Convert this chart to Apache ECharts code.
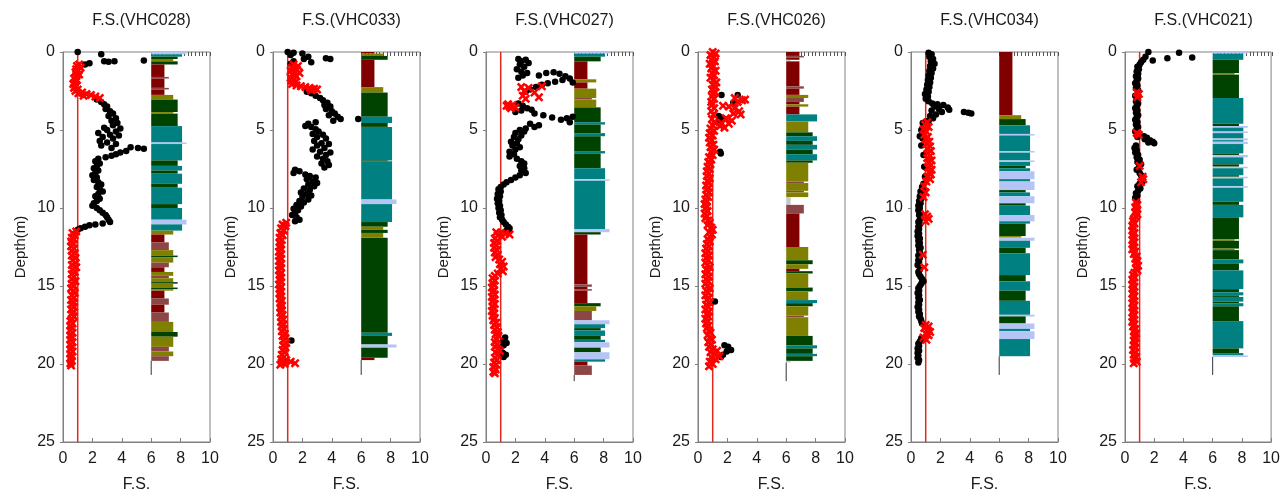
<!DOCTYPE html>
<html>
<head>
<meta charset="utf-8">
<title>CPT factor of safety profiles</title>
<script src="https://cdn.jsdelivr.net/npm/echarts@6/dist/echarts.min.js"></script>
<style>
  html, body { margin: 0; padding: 0; background: #ffffff; }
  #chart { width: 1283px; height: 500px; }
</style>
</head>
<body>
<div id="chart"></div>
<script>
// Boreholes, left to right
const boreholes = ['VHC028', 'VHC033', 'VHC027', 'VHC026', 'VHC034', 'VHC021'];

// Factor of safety threshold (F.S. = 1)
const fsLimit = 1;

// Total sounding depth of each log (m)
const logDepths = [20.7, 20.7, 21.1, 21.1, 20.7, 20.7];

// ---- VHC028 ----  points are [F.S., depth m]
const vhc028NonLiq = [[1.0,0.0],[2.6,0.15],[5.5,0.55],[2.8,0.6],[3.1,0.62],[3.5,0.6],[1.8,0.72],[1.5,0.8],
  [2.3,3.05],[2.6,3.2],[2.8,3.35],[3.0,3.5],[2.9,3.65],[3.2,3.8],[3.4,3.95],[3.1,4.1],[3.6,4.25],[3.3,4.4],[3.7,4.55],[3.4,4.7],[2.8,4.85],[3.9,4.9],[3.0,5.0],[3.6,5.1],[2.4,5.2],[3.2,5.3],[3.8,5.35],[2.7,5.45],[3.4,5.55],[2.5,5.7],[3.0,5.8],[3.6,5.9],[2.6,6.0],[3.3,6.15],[4.6,6.1],[5.1,6.15],[5.5,6.2],[4.3,6.35],[3.9,6.45],[3.6,6.55],[3.3,6.65],[2.9,6.75],[2.4,6.85],
  [2.2,7.0],[2.5,7.15],[2.3,7.3],[2.1,7.45],[2.4,7.6],[2.2,7.75],[2.0,7.9],[2.3,8.05],[2.1,8.2],[2.4,8.35],[2.6,8.5],[2.3,8.65],[2.5,8.8],[2.7,8.95],[2.4,9.1],[2.2,9.25],[2.5,9.4],[2.3,9.55],[2.1,9.7],[2.0,9.85],[2.3,10.0],[2.5,10.15],[2.7,10.3],[2.9,10.45],[3.0,10.6],[3.1,10.75],[3.2,10.9],[2.7,11.0],[2.2,11.05],[1.8,11.1],[1.5,11.2],[1.2,11.3],[1.0,11.4]];
const vhc028Liq = [[1.1,0.8],[0.95,0.9],[1.2,1.0],[0.9,1.1],[1.05,1.2],[0.85,1.3],[1.1,1.45],[0.9,1.55],[0.75,1.7],[0.95,1.8],[0.8,1.95],[0.7,2.05],[0.9,2.2],[0.75,2.3],[1.0,2.4],[0.85,2.5],[1.3,2.6],[1.05,2.65],[1.6,2.7],[1.9,2.75],[1.4,2.8],[2.2,2.85],[2.5,2.95],
  [0.9,11.5],[0.65,11.6],[0.8,11.75],[0.6,11.9],[0.75,12.0],[0.55,12.15],[0.7,12.3],[0.55,12.45],[0.75,12.6],[0.6,12.75],[0.8,12.9],[0.6,13.05],[0.85,13.2],[0.65,13.35],[0.85,13.5],[0.6,13.65],[0.9,13.8],[0.65,13.95],[0.8,14.1],[0.6,14.25],[0.75,14.4],[0.6,14.55],[0.85,14.7],[0.6,14.85],[0.75,15.0],[0.55,15.15],[0.7,15.3],[0.8,15.45],[0.6,15.6],[0.75,15.75],[0.55,15.9],[0.7,16.05],[0.6,16.2],[0.75,16.35],[0.55,16.5],[0.7,16.65],[0.6,16.8],[0.75,16.95],[0.6,17.1],[0.5,17.25],[0.65,17.4],[0.5,17.55],[0.6,17.7],[0.5,17.85],[0.65,18.0],[0.5,18.15],[0.6,18.3],[0.5,18.45],[0.65,18.6],[0.5,18.75],[0.6,18.9],[0.5,19.05],[0.65,19.2],[0.5,19.35],[0.6,19.5],[0.5,19.65],[0.6,19.8],[0.5,19.95],[0.55,20.1]];
// soil behaviour type layers: [top m, bottom m, SBT zone]
const vhc028Sbt = [[0,0.15,8],[0.15,0.3,7],[0.3,0.45,6],[0.45,0.6,5],[0.6,0.8,6],[0.8,1.6,3],[1.6,1.7,4],[1.7,2.3,3],[2.3,2.4,4],[2.4,2.75,3],[2.75,3.05,5],[3.05,3.85,6],[3.85,3.95,5],[3.95,4.75,6],[4.75,5.8,7],[5.8,5.9,8],[5.9,6.95,7],[6.95,7.3,6],[7.3,7.6,7],[7.6,7.8,6],[7.8,8.45,7],[8.45,8.7,6],[8.7,9.75,7],[9.75,10.0,6],[10.0,10.75,7],[10.75,11.05,8],[11.05,11.45,7],[11.45,11.7,5],[11.7,12.2,3],[12.2,12.7,4],[12.7,13.05,5],[13.05,13.15,6],[13.15,13.5,5],[13.5,13.8,4],[13.8,14.1,3],[14.1,14.35,5],[14.35,14.5,4],[14.5,14.75,5],[14.75,14.85,6],[14.85,15.1,5],[15.1,15.2,6],[15.2,15.3,5],[15.3,15.8,3],[15.8,16.2,4],[16.2,16.7,3],[16.7,17.3,4],[17.3,17.95,5],[17.95,18.25,6],[18.25,18.9,5],[18.9,19.2,4],[19.2,19.5,5],[19.5,19.8,4]];

// ---- VHC033 ----
const vhc033NonLiq = [[1.0,0.0],[1.4,0.05],[2.0,0.1],[1.2,0.2],[2.4,0.3],[3.6,0.4],[3.9,0.45],[2.1,0.45],[1.4,0.6],[2.6,0.65],[1.2,0.75],
  [2.3,2.55],[2.6,2.65],[2.9,2.8],[3.2,2.95],[3.4,3.1],[3.7,3.25],[3.5,3.4],[3.9,3.5],[3.6,3.65],[4.0,3.8],[4.2,3.95],[3.8,4.05],[4.4,4.15],[4.6,4.3],[5.8,4.3],[4.1,4.4],[2.9,4.5],[2.4,4.6],[2.2,4.75],[2.6,4.8],[2.9,4.95],[3.1,5.1],[2.7,5.25],[3.4,5.3],[3.0,5.45],[3.6,5.55],[2.8,5.7],[3.3,5.85],[3.8,5.9],[3.0,6.0],[3.5,6.15],[2.7,6.25],[3.2,6.4],[3.9,6.45],[3.6,6.6],[3.0,6.7],[3.4,6.85],[3.7,7.0],[3.3,7.15],[3.8,7.25],[3.5,7.4],[1.5,7.55],[1.8,7.65],[1.4,7.75],[2.2,7.85],[2.5,7.95],[2.9,8.05],[2.3,8.15],[2.7,8.3],[3.0,8.4],[2.4,8.5],[2.8,8.6],[2.1,8.75],[2.5,8.85],[1.9,9.0],[2.3,9.1],[2.6,9.2],[2.0,9.3],[2.4,9.45],[1.8,9.55],[2.1,9.65],[1.6,9.8],[1.9,9.9],[1.4,10.05],[1.7,10.15],[1.5,10.3],[1.3,10.45],[1.6,10.6],[1.8,10.75],[1.5,10.85],
  [1.25,18.5]];
const vhc033Liq = [[1.4,0.8],[1.7,0.9],[1.3,1.0],[1.6,1.1],[1.2,1.2],[1.5,1.3],[1.8,1.35],[1.3,1.45],[1.6,1.55],[1.2,1.65],[1.45,1.75],[1.25,1.85],[1.5,1.95],[1.3,2.05],[1.6,2.15],[1.9,2.2],[2.2,2.25],[2.5,2.3],[2.8,2.35],[3.0,2.4],[2.6,2.45],
  [0.9,10.95],[0.65,11.05],[0.85,11.15],[0.55,11.3],[0.75,11.45],[0.5,11.6],[0.65,11.75],[0.45,11.9],[0.6,12.05],[0.45,12.2],[0.55,12.35],[0.45,12.5],[0.55,12.65],[0.4,12.8],[0.55,12.95],[0.45,13.1],[0.55,13.25],[0.4,13.4],[0.55,13.55],[0.45,13.7],[0.55,13.85],[0.4,14.0],[0.55,14.15],[0.45,14.3],[0.55,14.45],[0.45,14.6],[0.55,14.75],[0.4,14.9],[0.55,15.05],[0.45,15.2],[0.55,15.35],[0.45,15.5],[0.55,15.65],[0.45,15.8],[0.6,15.95],[0.5,16.1],[0.6,16.25],[0.5,16.4],[0.6,16.55],[0.5,16.7],[0.65,16.85],[0.55,17.0],[0.7,17.15],[0.55,17.3],[0.7,17.45],[0.6,17.6],[0.75,17.75],[0.6,17.9],[0.8,18.05],[0.65,18.2],[0.85,18.35],[0.7,18.5],[0.9,18.65],[0.7,18.8],[0.85,18.95],[0.65,19.1],[0.8,19.25],[0.6,19.4],[0.75,19.55],[0.55,19.7],[0.9,19.75],[1.2,19.85],[0.6,19.9],[1.5,19.95],[0.8,20.0],[0.5,20.05]];
const vhc033Sbt = [[0,0.1,3],[0.1,0.25,5],[0.25,0.5,6],[0.5,2.25,3],[2.25,2.6,5],[2.6,4.15,6],[4.15,4.55,7],[4.55,4.8,6],[4.8,6.95,7],[6.95,7.0,6],[7.0,9.45,7],[9.45,9.75,8],[9.75,10.9,7],[10.9,11.2,6],[11.2,11.4,5],[11.4,11.6,6],[11.6,11.9,5],[11.9,18.0,6],[18.0,18.2,7],[18.2,18.75,6],[18.75,18.95,8],[18.95,19.6,6],[19.6,19.75,3]];

// ---- VHC027 ----
const vhc027NonLiq = [[2.2,0.45],[2.7,0.5],[2.4,0.6],[2.9,0.7],[2.3,0.8],[2.6,0.95],[2.1,1.1],[2.4,1.25],[2.8,1.35],[2.5,1.5],[2.2,1.65],
  [3.6,1.5],[4.1,1.35],[4.6,1.3],[5.0,1.4],[5.4,1.55],[5.7,1.7],[5.9,1.95],[5.2,1.8],[4.7,1.9],[4.2,2.0],[3.8,2.1],[3.4,2.25],[3.0,2.4],[2.7,2.55],
  [2.2,3.3],[2.5,3.45],[2.8,3.6],[3.1,3.7],[2.4,3.75],[2.0,3.85],[3.3,3.95],[3.9,4.05],[4.5,4.2],[5.1,4.35],[5.5,4.25],[5.9,4.15],[5.7,4.5],[3.0,4.6],[3.6,4.7],[3.3,4.8],[2.7,4.9],
  [2.3,5.0],[2.6,5.1],[2.0,5.2],[2.4,5.35],[1.9,5.45],[2.2,5.6],[1.7,5.75],[2.1,5.85],[1.8,6.0],[2.3,6.1],[2.0,6.25],[1.6,6.4],[1.9,6.55],[1.6,6.7],[2.1,6.85],[2.4,7.0],[2.6,7.15],[2.3,7.3],[2.6,7.45],[2.4,7.6],[2.7,7.75],[2.3,7.9],[2.0,8.05],[1.7,8.2],[1.4,8.35],[1.2,8.5],
  [1.0,8.65],[0.85,8.8],[1.0,8.95],[0.8,9.1],[0.95,9.25],[0.75,9.4],[0.9,9.55],[0.8,9.7],[0.95,9.85],[0.85,10.0],[1.0,10.15],[0.9,10.3],[1.05,10.45],[0.95,10.6],[1.1,10.75],[1.2,10.9],[1.35,11.05],[1.5,11.2],[1.6,11.3],[1.4,11.45],[1.55,11.5],
  [1.3,18.3],[1.15,18.5],[1.4,18.65],[1.2,18.8],[1.0,18.95],[1.15,19.3],[1.35,19.4],[1.2,19.55]];
const vhc027Liq = [[2.4,2.25],[2.9,2.3],[3.8,2.2],[2.6,2.5],[3.3,2.6],[2.5,2.8],[3.6,2.9],[2.7,3.0],[1.5,3.35],[1.8,3.4],[1.6,3.5],[2.0,3.55],[1.7,3.6],[1.4,3.45],
  [0.7,11.55],[1.0,11.6],[1.3,11.65],[1.6,11.7],[0.8,11.75],[1.1,11.85],[0.6,11.95],[0.75,12.1],[0.55,12.25],[0.7,12.4],[0.55,12.55],[0.75,12.7],[0.6,12.85],[0.8,13.0],[0.65,13.15],[0.9,13.3],[1.1,13.45],[0.95,13.6],[1.2,13.75],[1.0,13.9],[1.15,14.05],[0.8,14.2],[0.6,14.35],[0.45,14.5],[0.6,14.65],[0.45,14.8],[0.55,14.95],[0.4,15.1],[0.55,15.25],[0.45,15.4],[0.6,15.55],[0.4,15.7],[0.55,15.85],[0.45,16.0],[0.6,16.15],[0.45,16.3],[0.55,16.45],[0.4,16.6],[0.55,16.75],[0.45,16.9],[0.6,17.05],[0.5,17.2],[0.7,17.35],[0.55,17.5],[0.75,17.65],[0.6,17.8],[0.8,17.95],[0.65,18.1],[0.85,18.2],[0.7,18.4],[0.6,18.6],[0.75,18.75],[0.6,18.9],[0.8,19.05],[0.95,19.15],[0.65,19.25],[0.8,19.45],[0.6,19.6],[0.75,19.75],[0.55,19.9],[0.7,20.05],[0.5,20.2],[0.65,20.35],[0.5,20.5],[0.6,20.6]];
const vhc027Sbt = [[0,0.1,8],[0.1,0.3,7],[0.3,0.6,6],[0.6,1.75,3],[1.75,1.95,5],[1.95,2.35,3],[2.35,2.95,5],[2.95,3.05,4],[3.05,3.55,5],[3.55,4.5,6],[4.5,4.65,7],[4.65,5.2,6],[5.2,5.4,7],[5.4,6.35,6],[6.35,6.5,7],[6.5,7.45,6],[7.45,8.15,7],[8.15,8.25,8],[8.25,11.35,7],[11.35,11.55,8],[11.55,11.7,6],[11.7,14.9,3],[14.9,15.05,4],[15.05,15.2,3],[15.2,15.3,4],[15.3,16.1,3],[16.1,16.3,6],[16.3,16.6,5],[16.6,17.2,4],[17.2,17.45,8],[17.45,17.7,7],[17.7,17.85,6],[17.85,18.2,7],[18.2,18.45,6],[18.45,18.6,7],[18.6,18.95,8],[18.95,19.25,6],[19.25,19.7,8],[19.7,19.85,7],[19.85,20.1,3],[20.1,20.7,4]];

// ---- VHC026 ----
const vhc026NonLiq = [[1.6,2.75],[2.7,2.75],[2.4,3.25],[1.4,4.1],[1.55,4.2],[1.7,4.25],[1.45,4.35],[1.6,4.4],[1.5,6.4],[1.55,6.5],[1.15,16.0],[1.8,18.8],[2.05,18.9],[2.25,19.1],[1.95,19.2],[1.7,19.4],[1.55,19.55]];
const vhc026Liq = [[1.0,0.0],[1.2,0.1],[0.85,0.2],[1.1,0.35],[0.9,0.5],[1.15,0.6],[0.8,0.75],[1.05,0.9],[0.9,1.05],[1.2,1.2],[0.95,1.35],[1.1,1.5],[0.85,1.65],[1.05,1.8],[1.25,1.95],[1.0,2.1],[1.2,2.25],[0.95,2.4],[1.15,2.55],[1.05,2.7],[0.95,2.85],[1.1,3.0],[0.9,3.2],
  [2.5,2.95],[3.0,3.1],[2.7,3.2],[3.2,3.05],[1.7,3.45],[2.1,3.5],[2.5,3.6],[2.8,3.8],[2.4,3.95],[2.9,4.0],[1.9,4.25],[2.3,4.4],[1.6,4.55],[2.1,4.6],[1.8,4.85],[1.5,4.75],
  [0.95,3.4],[1.1,3.6],[0.9,3.8],[1.05,4.0],[0.95,4.3],[1.1,4.5],[1.0,4.7],[0.85,4.9],[1.1,5.05],[0.8,5.2],[1.0,5.35],[0.75,5.5],[0.95,5.65],[0.8,5.8],[1.05,5.95],[0.85,6.1],[1.1,6.25],[0.9,6.4],[1.0,6.6],[0.75,6.75],[0.9,6.9],[0.7,7.05],[0.85,7.2],[0.65,7.35],[0.8,7.5],[0.6,7.65],[0.75,7.8],[0.6,7.95],[0.8,8.1],[0.65,8.25],[0.75,8.4],[0.55,8.55],[0.7,8.7],[0.6,8.85],[0.75,9.0],[0.55,9.15],[0.7,9.3],[0.5,9.45],[0.6,9.6],[0.45,9.75],[0.6,9.9],[0.5,10.05],[0.65,10.2],[0.45,10.35],[0.6,10.5],[0.5,10.65],[0.7,10.8],[0.8,10.95],[0.65,11.1],[0.9,11.25],[1.0,11.4],[0.75,11.55],[0.95,11.7],[0.8,11.85],[0.65,12.0],[0.8,12.15],[0.6,12.3],[0.75,12.45],[0.55,12.6],[0.7,12.75],[0.5,12.9],[0.75,13.05],[0.55,13.2],[0.7,13.35],[0.5,13.5],[0.65,13.65],[0.8,13.8],[0.55,13.95],[0.7,14.1],[0.5,14.25],[0.75,14.4],[0.55,14.55],[0.7,14.7],[0.5,14.85],[0.65,15.0],[0.8,15.15],[0.55,15.3],[0.7,15.45],[0.5,15.6],[0.75,15.75],[0.6,15.9],[0.8,16.05],[0.55,16.2],[0.7,16.35],[0.5,16.5],[0.75,16.65],[0.6,16.8],[0.7,16.95],[0.5,17.1],[0.65,17.25],[0.55,17.4],[0.7,17.55],[0.6,17.7],[0.75,17.85],[0.85,18.0],[0.65,18.15],[0.8,18.3],[0.95,18.45],[0.7,18.6],[0.9,18.75],[0.75,18.9],[1.0,19.05],[1.3,19.15],[0.85,19.25],[1.15,19.4],[1.45,19.5],[0.9,19.55],[1.2,19.7],[0.8,19.85],[1.0,20.0],[0.75,20.15]];
const vhc026Sbt = [[0,0.25,3],[0.25,0.35,4],[0.35,0.5,3],[0.5,0.6,1],[0.6,2.2,3],[2.2,2.35,4],[2.35,2.75,3],[2.75,2.95,5],[2.95,3.2,4],[3.2,3.35,3],[3.35,3.5,5],[3.5,4.0,3],[4.0,4.45,7],[4.45,5.15,5],[5.15,5.4,6],[5.4,5.7,7],[5.7,5.95,6],[5.95,6.25,7],[6.25,6.55,6],[6.55,6.95,7],[6.95,7.1,6],[7.1,8.3,5],[8.3,8.4,4],[8.4,8.9,5],[8.9,9.0,4],[9.0,9.3,5],[9.3,9.8,1],[9.8,10.35,4],[10.35,12.5,3],[12.5,13.35,5],[13.35,13.6,6],[13.6,13.9,5],[13.9,14.05,3],[14.05,14.2,6],[14.2,15.1,5],[15.1,15.35,6],[15.35,15.9,5],[15.9,16.1,7],[16.1,16.3,6],[16.3,16.9,5],[16.9,17.0,4],[17.0,18.2,5],[18.2,18.8,6],[18.8,19.0,7],[19.0,19.35,6],[19.35,19.5,7],[19.5,19.8,6],[19.8,19.9,1]];

// ---- VHC034 ----
const vhc034NonLiq = [[1.2,0.05],[1.4,0.15],[1.25,0.3],[1.5,0.45],[1.35,0.6],[1.6,0.75],[1.3,0.9],[1.5,1.05],[1.25,1.2],[1.4,1.35],[1.2,1.5],[1.35,1.65],[1.15,1.8],[1.3,1.95],[1.1,2.1],[1.25,2.25],[1.05,2.4],[1.2,2.55],[0.95,2.7],[1.15,2.85],[1.0,3.0],[1.2,3.15],[1.45,3.3],[1.8,3.35],[2.2,3.4],[1.6,3.5],[2.5,3.55],[1.9,3.65],[2.6,3.7],[1.4,3.75],[2.1,3.85],[3.6,3.85],[3.9,3.9],[4.1,3.95],[1.7,4.0],[1.3,4.1],[1.5,4.25],[1.2,4.4],
  [0.8,4.55],[0.7,5.0],[0.6,5.4],[0.8,5.55],[0.7,6.0],[0.85,6.6],[0.9,7.35],[0.95,8.0],[0.85,8.45],[0.75,8.65],
  [0.8,8.8],[0.65,8.95],[0.75,9.1],[0.6,9.25],[0.7,9.4],[0.55,9.55],[0.65,9.7],[0.5,9.85],[0.6,10.0],[0.5,10.15],[0.65,10.3],[0.55,10.45],[0.7,10.6],[0.6,10.75],[0.5,10.9],
  [0.6,11.05],[0.5,11.2],[0.55,11.35],[0.45,11.5],[0.55,11.65],[0.45,11.8],[0.6,11.95],[0.5,12.1],[0.6,12.25],[0.5,12.4],[0.65,12.55],[0.55,12.7],[0.6,12.85],[0.5,13.05],[0.6,13.2],[0.5,13.35],[0.55,13.5],[0.45,13.65],[0.6,13.95],[0.5,14.1],[0.55,14.25],[0.65,14.4],[0.75,14.55],[0.85,14.7],[0.7,14.85],[0.6,15.0],[0.5,15.15],[0.55,15.3],[0.45,15.45],[0.55,15.6],[0.5,15.75],[0.6,15.9],[0.5,16.05],[0.55,16.2],[0.45,16.35],[0.55,16.5],[0.5,16.65],[0.6,16.8],[0.55,16.95],[0.65,17.1],[0.7,17.25],[0.75,17.4],
  [0.7,18.35],[0.6,18.55],[0.5,18.7],[0.55,18.85],[0.45,19.0],[0.55,19.15],[0.45,19.3],[0.5,19.45],[0.45,19.6],[0.55,19.75],[0.5,19.9]];
const vhc034Liq = [[1.1,4.5],[0.95,4.65],[1.2,4.8],[0.85,4.95],[1.05,5.1],[0.9,5.3],[1.15,5.45],[1.0,5.6],[1.25,5.75],[1.05,5.9],[1.3,6.05],[1.1,6.2],[1.35,6.35],[1.15,6.5],[1.3,6.65],[1.1,6.8],[1.4,6.95],[1.2,7.1],[1.35,7.25],[1.15,7.4],[1.4,7.55],[1.25,7.7],[1.35,7.85],[1.1,8.0],[1.3,8.15],[1.05,8.3],[0.9,8.6],[1.0,9.0],[0.85,9.3],[0.95,10.4],[1.1,10.55],[1.2,10.7],[1.0,10.85],
  [0.8,13.0],[0.9,13.8],[1.0,17.5],[1.2,17.6],[0.9,17.7],[1.15,17.85],[1.3,17.95],[1.0,18.05],[1.2,18.15],[0.85,18.3],[1.05,18.45]];
const vhc034Sbt = [[0,4.05,3],[4.05,4.3,5],[4.3,4.7,6],[4.7,5.25,7],[5.25,5.35,8],[5.35,6.35,7],[6.35,6.45,8],[6.45,6.95,7],[6.95,7.05,8],[7.05,7.3,7],[7.3,7.45,6],[7.45,7.65,7],[7.65,8.15,8],[8.15,8.3,7],[8.3,8.85,8],[8.85,9.0,6],[9.0,9.25,7],[9.25,9.7,8],[9.7,9.85,6],[9.85,10.45,7],[10.45,10.85,8],[10.85,11.0,7],[11.0,11.8,6],[11.8,11.9,5],[11.9,12.1,8],[12.1,12.55,7],[12.55,12.9,6],[12.9,14.3,7],[14.3,14.7,6],[14.7,15.3,7],[15.3,15.95,6],[15.95,16.85,7],[16.85,16.95,8],[16.95,17.4,6],[17.4,17.75,8],[17.75,17.9,7],[17.9,18.4,8],[18.4,19.5,7]];

// ---- VHC021 ----
const vhc021NonLiq = [[1.6,0.0],[3.7,0.05],[4.6,0.35],[2.9,0.4],[1.4,0.3],[1.9,0.55],[1.25,0.5],[1.1,0.65],
  [1.0,0.8],[0.85,0.95],[0.95,1.1],[0.8,1.25],[0.9,1.4],[0.75,1.55],[0.9,1.7],[0.8,1.85],[0.7,2.0],[0.85,2.15],[0.75,2.3],[0.9,2.45],[0.7,2.8],[0.85,3.0],[0.75,3.15],[0.9,3.3],[0.8,3.45],[0.7,3.6],[0.85,3.75],[0.75,3.9],[0.9,4.05],[0.8,4.2],[0.7,4.35],[0.85,4.5],[0.75,4.65],[0.9,4.8],[0.8,4.95],[0.7,5.1],[0.85,5.45],
  [1.3,5.4],[1.5,5.5],[1.35,5.6],[1.7,5.65],[1.9,5.75],[2.0,5.85],[1.6,5.8],
  [0.75,6.0],[0.65,6.15],[0.8,6.3],[0.7,6.45],[0.9,6.6],[0.8,6.75],[1.0,6.9],[0.85,7.05],[1.1,7.2],[0.95,7.4],[0.8,7.55],[1.0,7.75],[1.1,7.9],[1.2,8.3],[1.0,8.45],[0.85,8.6],[1.05,8.75],[0.9,8.9],[0.75,9.05],[0.85,9.2],[0.7,9.35],[0.8,9.5]];
const vhc021Liq = [[0.8,2.6],[0.95,2.7],[0.85,2.9],[0.8,5.2],[0.95,5.3],[1.0,7.3],[1.2,8.0],[1.25,8.15],[1.1,8.35],
  [0.75,9.65],[0.85,9.8],[0.7,9.95],[0.8,10.1],[0.7,10.25],[0.85,10.4],[0.75,10.55],[0.6,10.7],
  [0.55,10.85],[0.65,11.0],[0.5,11.15],[0.6,11.3],[0.5,11.45],[0.65,11.6],[0.55,11.75],[0.6,11.9],[0.5,12.05],[0.65,12.2],[0.55,12.35],[0.6,12.5],[0.5,12.65],[0.7,12.8],[0.6,12.95],[0.8,13.1],[0.7,13.25],[0.85,13.4],[0.75,13.55],[0.9,13.7],[0.75,13.85],[0.85,14.0],[0.65,14.15],[0.55,14.3],[0.65,14.45],[0.5,14.6],[0.6,14.75],[0.5,14.9],[0.65,15.05],[0.55,15.2],[0.6,15.35],[0.5,15.5],[0.65,15.65],[0.55,15.8],[0.6,15.95],[0.5,16.1],[0.65,16.25],[0.55,16.4],[0.6,16.55],[0.5,16.7],[0.65,16.85],[0.55,17.0],[0.6,17.15],[0.5,17.3],[0.65,17.45],[0.55,17.6],[0.7,17.75],[0.6,17.9],[0.75,18.05],[0.65,18.2],[0.7,18.35],[0.6,18.5],[0.7,18.65],[0.6,18.8],[0.7,18.95],[0.55,19.1],[0.7,19.25],[0.6,19.4],[0.75,19.55],[0.65,19.7],[0.8,19.85],[0.6,19.95]];
const vhc021Sbt = [[0,0.1,8],[0.1,0.5,7],[0.5,1.35,6],[1.35,1.45,5],[1.45,2.95,6],[2.95,4.6,7],[4.6,4.75,6],[4.75,4.85,8],[4.85,5.1,7],[5.1,5.2,8],[5.2,5.55,7],[5.55,5.65,8],[5.65,5.75,7],[5.75,5.9,8],[5.9,6.5,7],[6.5,6.6,6],[6.6,6.75,8],[6.75,7.2,7],[7.2,7.35,6],[7.35,7.45,8],[7.45,7.9,7],[7.9,8.0,6],[8.0,8.1,8],[8.1,8.6,7],[8.6,8.7,8],[8.7,9.6,7],[9.6,9.8,6],[9.8,10.6,7],[10.6,12.0,6],[12.0,12.1,5],[12.1,12.6,6],[12.6,12.7,5],[12.7,13.3,6],[13.3,13.55,7],[13.55,14.0,6],[14.0,15.2,7],[15.2,15.4,6],[15.4,15.6,7],[15.6,15.7,6],[15.7,16.0,7],[16.0,16.1,6],[16.1,16.3,7],[16.3,17.25,6],[17.25,19.0,7],[19.0,19.3,6],[19.3,19.45,7],[19.45,19.55,8]];

const nonLiqSets = [vhc028NonLiq, vhc033NonLiq, vhc027NonLiq, vhc026NonLiq, vhc034NonLiq, vhc021NonLiq];
const liqSets = [vhc028Liq, vhc033Liq, vhc027Liq, vhc026Liq, vhc034Liq, vhc021Liq];
const sbtSets = [vhc028Sbt, vhc033Sbt, vhc027Sbt, vhc026Sbt, vhc034Sbt, vhc021Sbt];

// Soil-type log drawn inside the F.S. frame: bars start at x = 6 and grow with zone number
const sbtBase = 6;
const sbtStep = 0.3;
const zoneColors = {
  1: '#c8c8c8', // sensitive fine grained
  3: '#800000', // clay
  4: '#8c4646', // silty clay
  5: '#808000', // clayey silt
  6: '#004200', // sandy silt
  7: '#008080', // silty sand
  8: '#b4c4f4'  // sand
};

const FONT = 'Liberation Sans, Arial, sans-serif';
const TEXT = '#1a1a1a';
const FRAME = '#808080';
const plotLefts = [63, 273, 486, 698, 911, 1125];
const plotW = 147, plotTop = 52, plotH = 390;
// bold "x" marker
const crossSymbol = 'path://M0,2L2,0L5,3L8,0L10,2L7,5L10,8L8,10L5,7L2,10L0,8L3,5Z';

const grids = [], xAxes = [], yAxes = [], series = [], titles = [];

boreholes.forEach((name, i) => {
  const left = plotLefts[i];
  grids.push({ left, top: plotTop, width: plotW, height: plotH, show: true,
    borderColor: FRAME, borderWidth: 1, backgroundColor: 'transparent' });
  titles.push({ text: 'F.S.(' + name + ')', left: left + plotW / 2, top: 8, textAlign: 'center',
    textStyle: { fontFamily: FONT, fontSize: 16, fontWeight: 'normal', color: TEXT } });

  xAxes.push({ gridIndex: i, type: 'value', min: 0, max: 10, interval: 2,
    name: 'F.S.', nameLocation: 'middle', nameGap: 35,
    nameTextStyle: { fontFamily: FONT, fontSize: 16, color: TEXT },
    axisLine: { show: true, onZero: false, lineStyle: { color: FRAME, width: 1 } },
    axisTick: { show: true, inside: true, length: 4, lineStyle: { color: FRAME } },
    axisLabel: { fontFamily: FONT, fontSize: 16, color: TEXT, margin: 9 },
    splitLine: { show: false } });
  yAxes.push({ gridIndex: i, type: 'value', inverse: true, min: 0, max: 25, interval: 5,
    name: 'Depth(m)', nameLocation: 'middle', nameGap: 35, nameRotate: 90,
    nameTextStyle: { fontFamily: FONT, fontSize: 15, color: TEXT },
    axisLine: { show: true, onZero: false, lineStyle: { color: FRAME, width: 1 } },
    axisTick: { show: true, inside: false, length: 3, lineStyle: { color: FRAME } },
    axisLabel: { fontFamily: FONT, fontSize: 16, color: TEXT, margin: 8 },
    splitLine: { show: false } });

  // soil behaviour type column
  series.push({ type: 'custom', xAxisIndex: i, yAxisIndex: i, data: sbtSets[i], silent: true, z: 1,
    renderItem: (params, api) => {
      const top = api.value(0), bot = api.value(1), zone = api.value(2);
      const p0 = api.coord([sbtBase, top]);
      const p1 = api.coord([sbtBase + sbtStep * zone, bot]);
      return { type: 'rect',
        shape: { x: p0[0], y: p0[1], width: p1[0] - p0[0], height: Math.max(1, p1[1] - p0[1]) },
        style: { fill: zoneColors[zone] } };
    } });

  // base of the log down to the end of the sounding
  const logBottom = sbtSets[i][sbtSets[i].length - 1][1];
  series.push({ type: 'line', xAxisIndex: i, yAxisIndex: i, silent: true, z: 1,
    data: [[sbtBase, logBottom], [sbtBase, logDepths[i]]], symbol: 'none',
    lineStyle: { color: '#333', width: 1 } });

  // F.S. = 1 reference line
  series.push({ type: 'line', xAxisIndex: i, yAxisIndex: i, silent: true, z: 2,
    data: [[fsLimit, 0], [fsLimit, 25]], symbol: 'none',
    lineStyle: { color: '#e0281e', width: 1.5 } });

  series.push({ type: 'scatter', xAxisIndex: i, yAxisIndex: i, data: nonLiqSets[i], z: 3,
    symbol: 'circle', symbolSize: 6.5, itemStyle: { color: '#000000', opacity: 1 } });
  series.push({ type: 'scatter', xAxisIndex: i, yAxisIndex: i, data: liqSets[i], z: 4,
    symbol: crossSymbol, symbolSize: 9, itemStyle: { color: '#ff0000', opacity: 1 } });
});

// small ticks along the top of the soil-type column
boreholes.forEach((name, i) => {
  const g = grids.length;
  grids.push({ left: plotLefts[i] + plotW * 0.6, top: plotTop, width: plotW * 0.4, height: plotH, show: false });
  xAxes.push({ gridIndex: g, type: 'value', position: 'top', min: 6, max: 10, interval: 0.25,
    axisLine: { show: false }, axisLabel: { show: false }, splitLine: { show: false },
    axisTick: { show: true, inside: true, length: 4, lineStyle: { color: '#555' } } });
  yAxes.push({ gridIndex: g, type: 'value', show: false, min: 0, max: 25, inverse: true });
});

const chart = echarts.init(document.getElementById('chart'), null, { renderer: 'canvas' });
chart.setOption({
  animation: false,
  backgroundColor: '#ffffff',
  title: titles,
  grid: grids,
  xAxis: xAxes,
  yAxis: yAxes,
  series: series
});
</script>
</body>
</html>
